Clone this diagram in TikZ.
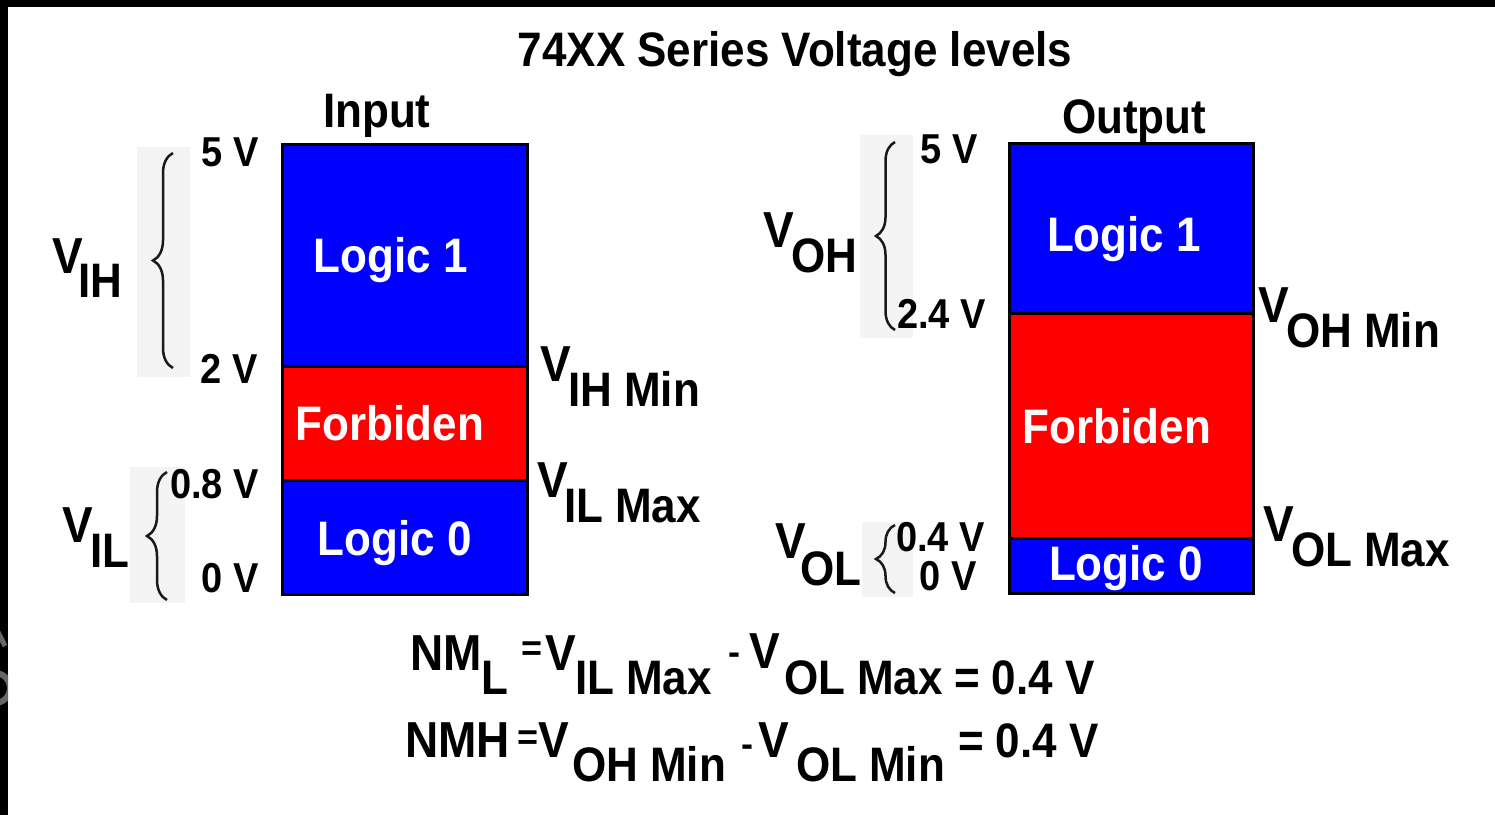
\documentclass[tikz,border=0pt]{standalone}
\usepackage{fontspec}
\setmainfont{Liberation Sans}
\usetikzlibrary{decorations.pathreplacing}
\newcommand\fsz[1]{\fontsize{#1}{#1}\selectfont}
\newcommand\vst[1]{\scalebox{1}[1.1]{#1}}
\definecolor{bracebg}{HTML}{F4F4F4}
\definecolor{zblue}{HTML}{0000FF}
\definecolor{zred}{HTML}{FF0000}
\begin{document}
\begin{tikzpicture}[x=1pt,y=-1pt,
  txt/.style={inner sep=0pt, outer sep=0pt, font=\bfseries\fsz{44}},
  big/.style={inner sep=0pt, outer sep=0pt, font=\bfseries\fsz{46}, anchor=base west},
  sub/.style={inner sep=0pt, outer sep=0pt, font=\bfseries\fsz{44}, anchor=base west},
  sym/.style={inner sep=0pt, outer sep=0pt, font=\bfseries\fsz{36}, anchor=center},
  tick/.style={inner sep=0pt, outer sep=0pt, font=\bfseries\fsz{38}, anchor=base east},
  wtxt/.style={inner sep=0pt, outer sep=0pt, font=\bfseries\fsz{44}, text=white, anchor=base},
  zone/.style={draw=black, line width=3pt},
  bbg/.style={fill=bracebg, draw=none},
  brc/.style={draw=black!90, line width=2.5pt, decorate, decoration={brace, amplitude=20pt}}
]
\useasboundingbox (0,0) rectangle (1495,815);
\fill[white] (0,0) rectangle (1495,815);
\fill[black] (0,0) rectangle (1495,7);
\fill[black] (0,0) rectangle (8,815);
\begin{scope}
  \clip (0,600) rectangle (8,730);
  \draw[black!60, line width=6pt] (-5,688) circle (15pt);
  \draw[black!60, line width=5pt] (-2,632) -- (5,646);
\end{scope}

% title
\node[txt, anchor=base] (title) at (795,66) {\vst{74XX Series Voltage levels}};
\node[txt, anchor=base west] (inlbl) at (323,127) {\vst{Input}};
\node[txt, anchor=base west] (outlbl) at (1062,133) {\vst{Output}};

% brace backgrounds
\fill[bbg] (137,147) rectangle (190,377);
\fill[bbg] (130,467) rectangle (185,603);
\fill[bbg] (860,135) rectangle (913,338);
\fill[bbg] (862,522) rectangle (913,597);

% braces
\coordinate (bihb) at (173,368); \coordinate (biht) at (173,153);
\coordinate (bilb) at (167,600); \coordinate (bilt) at (167,472);
\coordinate (bohb) at (895,330); \coordinate (boht) at (895,142);
\coordinate (bolb) at (895,593); \coordinate (bolt) at (895,525);
\draw[brc] (bihb) -- (biht);
\draw[brc] (bilb) -- (bilt);
\draw[brc, decoration={brace, amplitude=19pt}] (bohb) -- (boht);
\draw[brc, decoration={brace, amplitude=19pt}] (bolb) -- (bolt);

% input column
\path[zone, fill=zblue] (282,144) rectangle (527,366);
\path[zone, fill=zred] (282,366) rectangle (527,480);
\path[zone, fill=zblue] (282,480) rectangle (527,594);
\node[wtxt] (in1) at (391,272) {\vst{Logic 1}};
\node[wtxt] (inf) at (390,440) {\vst{Forbiden}};
\node[wtxt] (in0) at (395,555) {\vst{Logic 0}};

% output column
\path[zone, fill=zblue] (1009,143) rectangle (1253,313);
\path[zone, fill=zred] (1009,313) rectangle (1253,538);
\path[zone, fill=zblue] (1009,538) rectangle (1253,593);
\node[wtxt] (out1) at (1124,251) {\vst{Logic 1}};
\node[wtxt] (outf) at (1117,443) {\vst{Forbiden}};
\node[wtxt] (out0) at (1126,580) {\vst{Logic 0}};

% tick labels
\node[tick] (t5i) at (259,166) {\vst{5 V}};
\node[tick] (t2i) at (258,383) {\vst{2 V}};
\node[tick] (t08i) at (259,498) {\vst{0.8 V}};
\node[tick] (t0i) at (259,592) {\vst{0 V}};
\node[tick] (t5o) at (978,163) {\vst{5 V}};
\node[tick] (t24o) at (986,328) {\vst{2.4 V}};
\node[tick] (t04o) at (985,551) {\vst{0.4 V}};
\node[tick] (t0o) at (977,590) {\vst{0 V}};

% left side labels
\node[big] (vih) at (52,273) {\vst{V}};   \node[sub] (vihs) at (78,297) {\vst{IH}};
\node[big] (vil) at (62,542) {\vst{V}};   \node[sub] (vils) at (90,567) {\vst{IL}};
\node[big] (voh) at (763,247) {\vst{V}};  \node[sub] (vohs) at (791,272) {\vst{OH}};
\node[big] (vol) at (775,558) {\vst{V}};  \node[sub] (vols) at (800,585) {\vst{OL}};

% right side labels
\node[big] (vihm) at (540,381) {\vst{V}};  \node[sub] (vihms) at (568,406) {\vst{IH Min}};
\node[big] (vilm) at (537,497) {\vst{V}};  \node[sub] (vilms) at (564,522) {\vst{IL Max}};
\node[big] (vohm) at (1258,322) {\vst{V}}; \node[sub] (vohms) at (1286,347) {\vst{OH Min}};
\node[big] (volm) at (1263,541) {\vst{V}}; \node[sub] (volms) at (1291,566) {\vst{OL Max}};

% equation 1
\node[big] (e1a) at (410,670) {\vst{NM}};
\node[sub] (e1b) at (481,694) {\vst{L}};
\node[sym] (e1c) at (532,651) {=};
\node[big] (e1d) at (545,670) {\vst{V}};
\node[sub] (e1e) at (575,694) {\vst{IL Max}};
\node[sym] (e1f) at (734,659) {-};
\node[big] (e1g) at (749,668) {\vst{V}};
\node[sub] (e1h) at (784,694) {\vst{OL Max}};
\node[sub] (e1i) at (954,694) {\vst{= 0.4 V}};

% equation 2
\node[big] (e2a) at (405,757) {\vst{NMH}};
\node[sym] (e2c) at (528,740) {=};
\node[big] (e2d) at (538,757) {\vst{V}};
\node[sub] (e2e) at (572,781) {\vst{OH Min}};
\node[sym] (e2f) at (747,751) {-};
\node[big] (e2g) at (758,757) {\vst{V}};
\node[sub] (e2h) at (796,781) {\vst{OL Min}};
\node[sub] (e2i) at (958,757) {\vst{= 0.4 V}};
\end{tikzpicture}
\end{document}
